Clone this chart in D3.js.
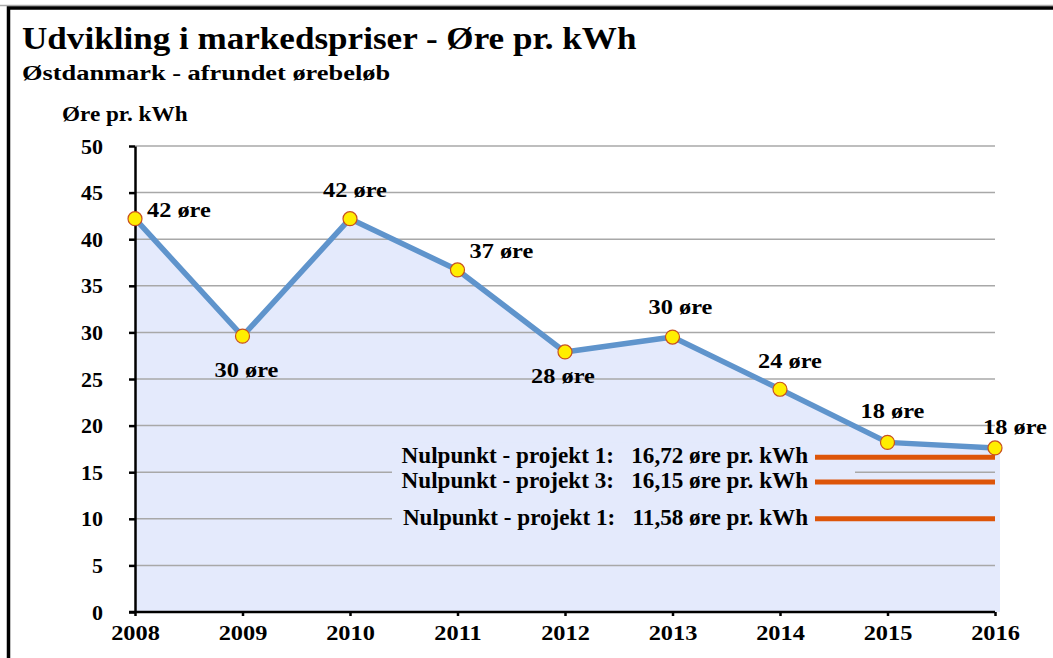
<!DOCTYPE html>
<html><head><meta charset="utf-8">
<script src="https://cdn.jsdelivr.net/npm/d3@7"></script>
<style>body{margin:0;background:#fff}svg{display:block}text{font-family:"Liberation Serif","Times New Roman",serif;font-weight:bold;fill:#000}</style>
</head><body><svg id="c" width="1053" height="658"></svg>
<script>
const years = ["2008","2009","2010","2011","2012","2013","2014","2015","2016"];
const prices = [42.2, 29.6, 42.2, 36.7, 27.9, 29.5, 23.9, 18.2, 17.6];
const priceLabels = ["42 øre","30 øre","42 øre","37 øre","28 øre","30 øre","24 øre","18 øre","18 øre"];
const yTicks = [0,5,10,15,20,25,30,35,40,45,50];
const refLabels = ["Nulpunkt - projekt 1:   16,72 øre pr. kWh","Nulpunkt - projekt 3:   16,15 øre pr. kWh","Nulpunkt - projekt 1:   11,58 øre pr. kWh"];
const refValues = [16.6, 13.95, 10.0];
const title = "Udvikling i markedspriser - Øre pr. kWh";
const subtitle = "Østdanmark - afrundet ørebeløb";
const yTitle = "Øre pr. kWh";

// label placement (anchor, dx, dy) per point
const labelPlace = [["start",12,-2],["middle",4,41],["middle",5,-22],["start",12,-12],["middle",-2,31],["middle",8,-23],["middle",10,-21],["middle",5,-24],["middle",20,-14]];

function stretch(sel, S){
  S = S || 1.2;
  sel.each(function(){
    const t = d3.select(this);
    const tx = +t.attr("x")||0, ty = +t.attr("y")||0;
    t.attr("transform",`translate(${tx},${ty}) scale(${S},1)`).attr("x",0).attr("y",0);
  });
}

const svg = d3.select("#c");
const x = d3.scalePoint().domain(years).range([135, 995]);
const y = d3.scaleLinear().domain([0, 50]).range([612, 146]);

// frame
svg.append("line").attr("x1",0).attr("x2",1053).attr("y1",5.5).attr("y2",5.5).attr("stroke","#aaa").attr("stroke-width",1.5);
svg.append("rect").attr("x",8.5).attr("y",8).attr("width",1100).attr("height",700)
  .attr("fill","none").attr("stroke","#000").attr("stroke-width",3.5);

// titles
svg.append("text").attr("x",22).attr("y",49).attr("font-size",32.5).text(title).call(stretch, 1.08);
svg.append("text").attr("x",22).attr("y",80).attr("font-size",22).text(subtitle).call(stretch, 1.2);
svg.append("text").attr("x",62).attr("y",121).attr("font-size",20).text(yTitle).call(stretch, 1.16);

// area
const pts = years.map((d,i)=>[x(d), y(prices[i])]);
const areaPts = pts.concat([[x(years[years.length-1])+5, y(prices[prices.length-1])]]);
svg.append("path")
  .datum(areaPts)
  .attr("fill","#E4EAFC")
  .attr("d", d3.area().x(d=>d[0]).y0(y(0)).y1(d=>d[1]));

// gridlines
svg.append("g").selectAll("line").data(yTicks.filter(v=>v>0)).join("line")
  .attr("x1",x(years[0])).attr("x2",x(years[years.length-1]))
  .attr("y1",d=>y(d)).attr("y2",d=>y(d))
  .attr("stroke","#A8A8A8").attr("stroke-width",1.5);

// legend background box
svg.append("rect").attr("x",392).attr("y",y(refValues[0])-15).attr("width",463).attr("height",y(refValues[2])-y(refValues[0])+30)
  .attr("fill","#E4EAFC");

// reference lines
svg.append("g").selectAll("line").data(refValues).join("line")
  .attr("x1",815).attr("x2",x(years[years.length-1]))
  .attr("y1",d=>y(d)).attr("y2",d=>y(d))
  .attr("stroke","#DD5509").attr("stroke-width",5);
svg.append("g").selectAll("text").data(refLabels).join("text")
  .attr("x",808).attr("y",(d,i)=>y(refValues[i])+6).attr("text-anchor","end")
  .attr("font-size",22.7).style("white-space","pre").text(d=>d).call(stretch, 1.02);

// axes
const yAxis = svg.append("g").attr("transform",`translate(${x(years[0])},0)`)
  .call(d3.axisLeft(y).tickValues(yTicks).tickSize(6).tickSizeOuter(0).tickPadding(26));
yAxis.attr("font-family",null).attr("font-size",null);
yAxis.selectAll("text").attr("font-size",22);
yAxis.selectAll("line,path").attr("stroke","#000").attr("stroke-width",2.5);
const xAxis = svg.append("g").attr("transform",`translate(0,${y(0)})`)
  .call(d3.axisBottom(x).tickSize(4).tickSizeOuter(0).tickPadding(9.5));
xAxis.attr("font-family",null).attr("font-size",null);
xAxis.selectAll("text").attr("font-size",21).call(stretch, 1.16);
xAxis.selectAll("line,path").attr("stroke","#000").attr("stroke-width",2.5);
xAxis.select(".domain").attr("d",`M${x(years[0])-6},0H${x(years[years.length-1])}`);

// line
svg.append("path").datum(pts).attr("fill","none").attr("stroke","#5F94CC").attr("stroke-width",5.5)
  .attr("stroke-linejoin","round").attr("d", d3.line());

// markers
svg.append("g").selectAll("circle").data(pts).join("circle")
  .attr("cx",d=>d[0]).attr("cy",d=>d[1]).attr("r",7)
  .attr("fill","#FFEE00").attr("stroke","#C8501E").attr("stroke-width",1.2);

// point labels
svg.append("g").selectAll("text").data(priceLabels).join("text")
  .attr("x",(d,i)=>x(years[i])+labelPlace[i][1])
  .attr("y",(d,i)=>y(prices[i])+labelPlace[i][2])
  .attr("text-anchor",(d,i)=>labelPlace[i][0])
  .attr("font-size",20.3).text(d=>d).call(stretch, 1.2);
</script></body></html>
